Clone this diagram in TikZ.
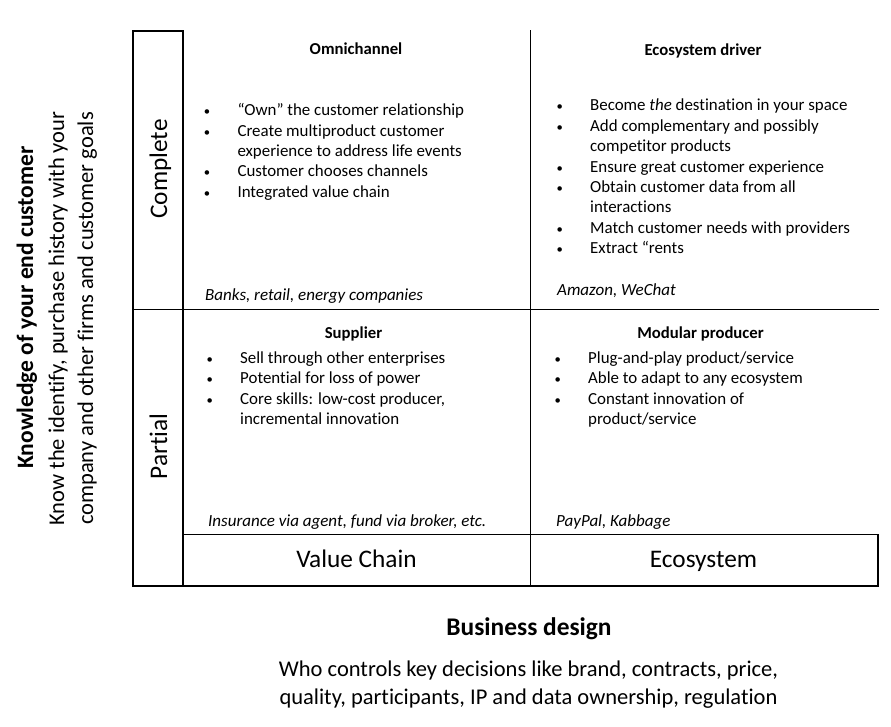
\documentclass[tikz,border=0pt]{standalone}
\usepackage{graphicx}
\usepackage{fontspec}
\setmainfont{Carlito}[Ligatures=CommonOff]
\newcommand\bul{\llap{\makebox[0pt]{\scalebox{0.75}{\textbullet}}\hspace{30.5pt}}}
\tikzset{
  grid/.style={line width=1.3pt, line cap=rect},
  title/.style={anchor=base, inner sep=0pt, font=\bfseries\fontsize{16.7}{20}\selectfont},
  body/.style={anchor=base west, align=left, inner sep=0pt, font=\fontsize{16.9}{20.4}\selectfont},
  example/.style={anchor=base west, inner sep=0pt, font=\itshape\fontsize{17}{20.4}\selectfont},
  big/.style={anchor=base, inner sep=0pt, font=\fontsize{25.3}{30}\selectfont},
  axistitle/.style={anchor=base, inner sep=0pt, font=\bfseries\fontsize{23.5}{28}\selectfont},
  axistext/.style={anchor=base, inner sep=0pt, align=center, font=\fontsize{22.5}{28.5}\selectfont},
}
\begin{document}
\begin{tikzpicture}[x=1pt,y=-1pt]
\useasboundingbox (0,0) rectangle (891,727);
% grid coordinates
\coordinate (oTL) at (133,31);
\coordinate (iT) at (183,31);
\coordinate (mT) at (530.5,31);
\coordinate (oBL) at (133,586);
\coordinate (iB) at (183,586);
\coordinate (mB) at (530.5,586);
\coordinate (hL) at (133,309.5);
\coordinate (hR) at (878,309.5);
\coordinate (bL) at (183,534.5);
\coordinate (bR) at (878,534.5);
\coordinate (oBR) at (878,586);
\draw[grid] (oBL) -- (oTL) -- (iT) -- (iB);
\draw[grid] (mT) -- (mB);
\draw[grid] (hL) -- (hR);
\draw[grid] (oBL) -- (oBR) -- (bR) -- (bL);

% top-left (anchor = baseline of last line)
\node[title] (t1) at (356,54.5) {Omnichannel};
\node[body] (b1) at (237.3,197.3) {\bul “Own” the customer relationship\\
\bul Create multiproduct customer\\
experience to address life events\\
\bul Customer chooses channels\\
\bul Integrated value chain};
\node[example] (e1) at (205,300.5) {Banks, retail, energy companies};

% top-right
\node[title] (t2) at (703,55.5) {Ecosystem driver};
\node[body] (b2) at (590,253.8) {\bul Become \emph{the} destination in your space\\
\bul Add complementary and possibly\\
competitor products\\
\bul Ensure great customer experience\\
\bul Obtain customer data from all\\
interactions\\
\bul Match customer needs with providers\\
\bul Extract “rents};
\node[example] (e2) at (557,295) {Amazon, WeChat};

% bottom-left
\node[title] (t3) at (353.5,338.5) {Supplier};
\node[body] (b3) at (240,424.7) {\bul Sell through other enterprises\\
\bul Potential for loss of power\\
\bul Core skills: low-cost producer,\\
incremental innovation};
\node[example] (e3) at (208,526.5) {Insurance via agent, fund via broker, etc.};

% bottom-right
\node[title] (t4) at (700.5,338.5) {Modular producer};
\node[body] (b4) at (588,424.7) {\bul Plug-and-play product/service\\
\bul Able to adapt to any ecosystem\\
\bul Constant innovation of\\
product/service};
\node[example] (e4) at (556,526.5) {PayPal, Kabbage};

% axis labels
\node[big] (vc) at (356.5,567.5) {Value Chain};
\node[big] (eco) at (703.5,567.5) {Ecosystem};
\node[big, rotate=90] (cpl) at (167,169) {Complete};
\node[big, rotate=90] (prt) at (167,446.5) {Partial};

\node[axistitle, rotate=90] (ky) at (33,307.5) {Knowledge of your end customer};
\node[axistext, rotate=90] (ky1) at (64,318.5) {Know the identify, purchase history with your};
\node[axistext, rotate=90] (ky2) at (93,318.5) {company and other firms and customer goals};

\node[axistitle, font=\bfseries\fontsize{25.4}{30}\selectfont] (bx) at (529,635) {Business design};
\node[axistext] (bx1) at (528.5,676) {Who controls key decisions like brand, contracts, price,};
\node[axistext] (bx2) at (528.5,704.5) {quality, participants, IP and data ownership, regulation};
\end{tikzpicture}
\end{document}
